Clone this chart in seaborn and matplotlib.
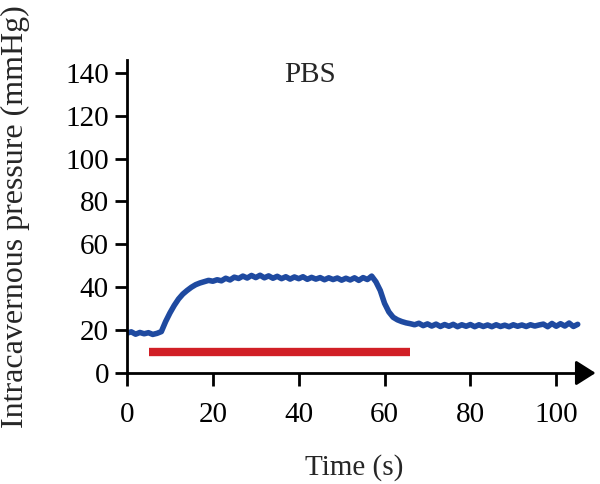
# -------------------------------------------------------
# INTRACAVERNOUS PRESSURE TRACE (PBS)
# -------------------------------------------------------

import numpy as np
import pandas as pd
import matplotlib
matplotlib.use("Agg")
import matplotlib.pyplot as plt
import seaborn as sns

# -------------------------------------------------------
# DATA (1 s resolution)
# -------------------------------------------------------

time_s = list(range(0, 106))
pressure = [
    18.6, 19.2, 18.1, 18.9, 18.3, 18.8, 18.0, 18.5,             # 0-7 baseline
    19.3, 24.0, 28.0, 31.5, 34.5, 36.8, 38.5, 40.0, 41.2, 42.0,  # 8-17 rise
    42.6, 43.2, 42.8, 43.5, 43.0, 44.2, 43.4, 44.7, 44.1, 45.2,  # 18-27
    44.3, 45.5, 44.5, 45.6, 44.4, 45.3, 44.2, 45.1, 44.0, 44.9,  # 28-37
    43.8, 44.8, 44.0, 44.9, 43.7, 44.6, 43.8, 44.5, 43.5, 44.4,  # 38-47
    43.6, 44.3, 43.3, 44.2, 43.4, 44.4, 43.2, 44.5, 43.6, 45.2,  # 48-57
    42.5, 38.5, 32.5, 28.5, 26.0, 24.8, 24.0, 23.4, 23.0, 22.5,  # 58-67 fall
    23.2, 22.1, 22.9, 21.9, 22.8, 21.7, 22.6, 21.8, 22.7, 21.6,  # 68-77
    22.5, 21.8, 22.6, 21.6, 22.5, 21.7, 22.4, 21.6, 22.5, 21.7,  # 78-87
    22.3, 21.6, 22.5, 21.8, 22.4, 21.7, 22.5, 21.9, 22.4, 22.8,  # 88-97
    21.6, 23.1, 21.8, 23.0, 21.9, 23.3, 21.7, 22.7,              # 98-105
]

# stimulation period (red bar)
stim_start, stim_end, stim_level = 5.2, 66.0, 9.6

y_ticks = [0, 20, 40, 60, 80, 100, 120, 140]
x_ticks = [0, 20, 40, 60, 80, 100]

df = pd.DataFrame({"Time (s)": time_s, "ICP": pressure})

# -------------------------------------------------------
# PLOT
# -------------------------------------------------------

sns.set_style("ticks")
plt.rcParams["font.family"] = ["Liberation Serif", "DejaVu Serif"]

fig = plt.figure(figsize=(6, 4.84), dpi=100)
ax = fig.add_axes([127 / 600, 111 / 484, (582 - 127) / 600, (373 - 60) / 484])

sns.lineplot(data=df, x="Time (s)", y="ICP", ax=ax, color="#1f4aa0",
             linewidth=4, estimator=None)
ax.plot([stim_start, stim_end], [stim_level, stim_level], color="#d11f26",
        linewidth=6, solid_capstyle="butt")

ax.text(42.7, 139, "PBS", fontsize=21, ha="center", va="center")

ax.set_xlim(0, 106)
ax.set_ylim(0, 146)
ax.set_xticks(x_ticks)
ax.set_yticks(y_ticks)
ax.tick_params(axis="both", direction="out", length=9, width=2,
               labelsize=21, colors="black")
ax.tick_params(axis="x", pad=12)
ax.tick_params(axis="y", pad=4)
ax.set_xlabel("Time (s)", fontsize=21, labelpad=19)
ax.set_ylabel("Intracavernous pressure (mmHg)", fontsize=23, labelpad=25)

for side in ["top", "right"]:
    ax.spines[side].set_visible(False)
for side in ["left", "bottom"]:
    ax.spines[side].set_linewidth(2)
    ax.spines[side].set_color("black")

# arrow head at the end of the time axis
ax.annotate("", xy=(1.036, 0), xycoords="axes fraction", xytext=(0.99, 0),
            arrowprops=dict(arrowstyle="-|>,head_length=0.6,head_width=0.38",
                            color="black", lw=2, mutation_scale=20),
            annotation_clip=False)

fig.savefig("out.png", dpi=100)
